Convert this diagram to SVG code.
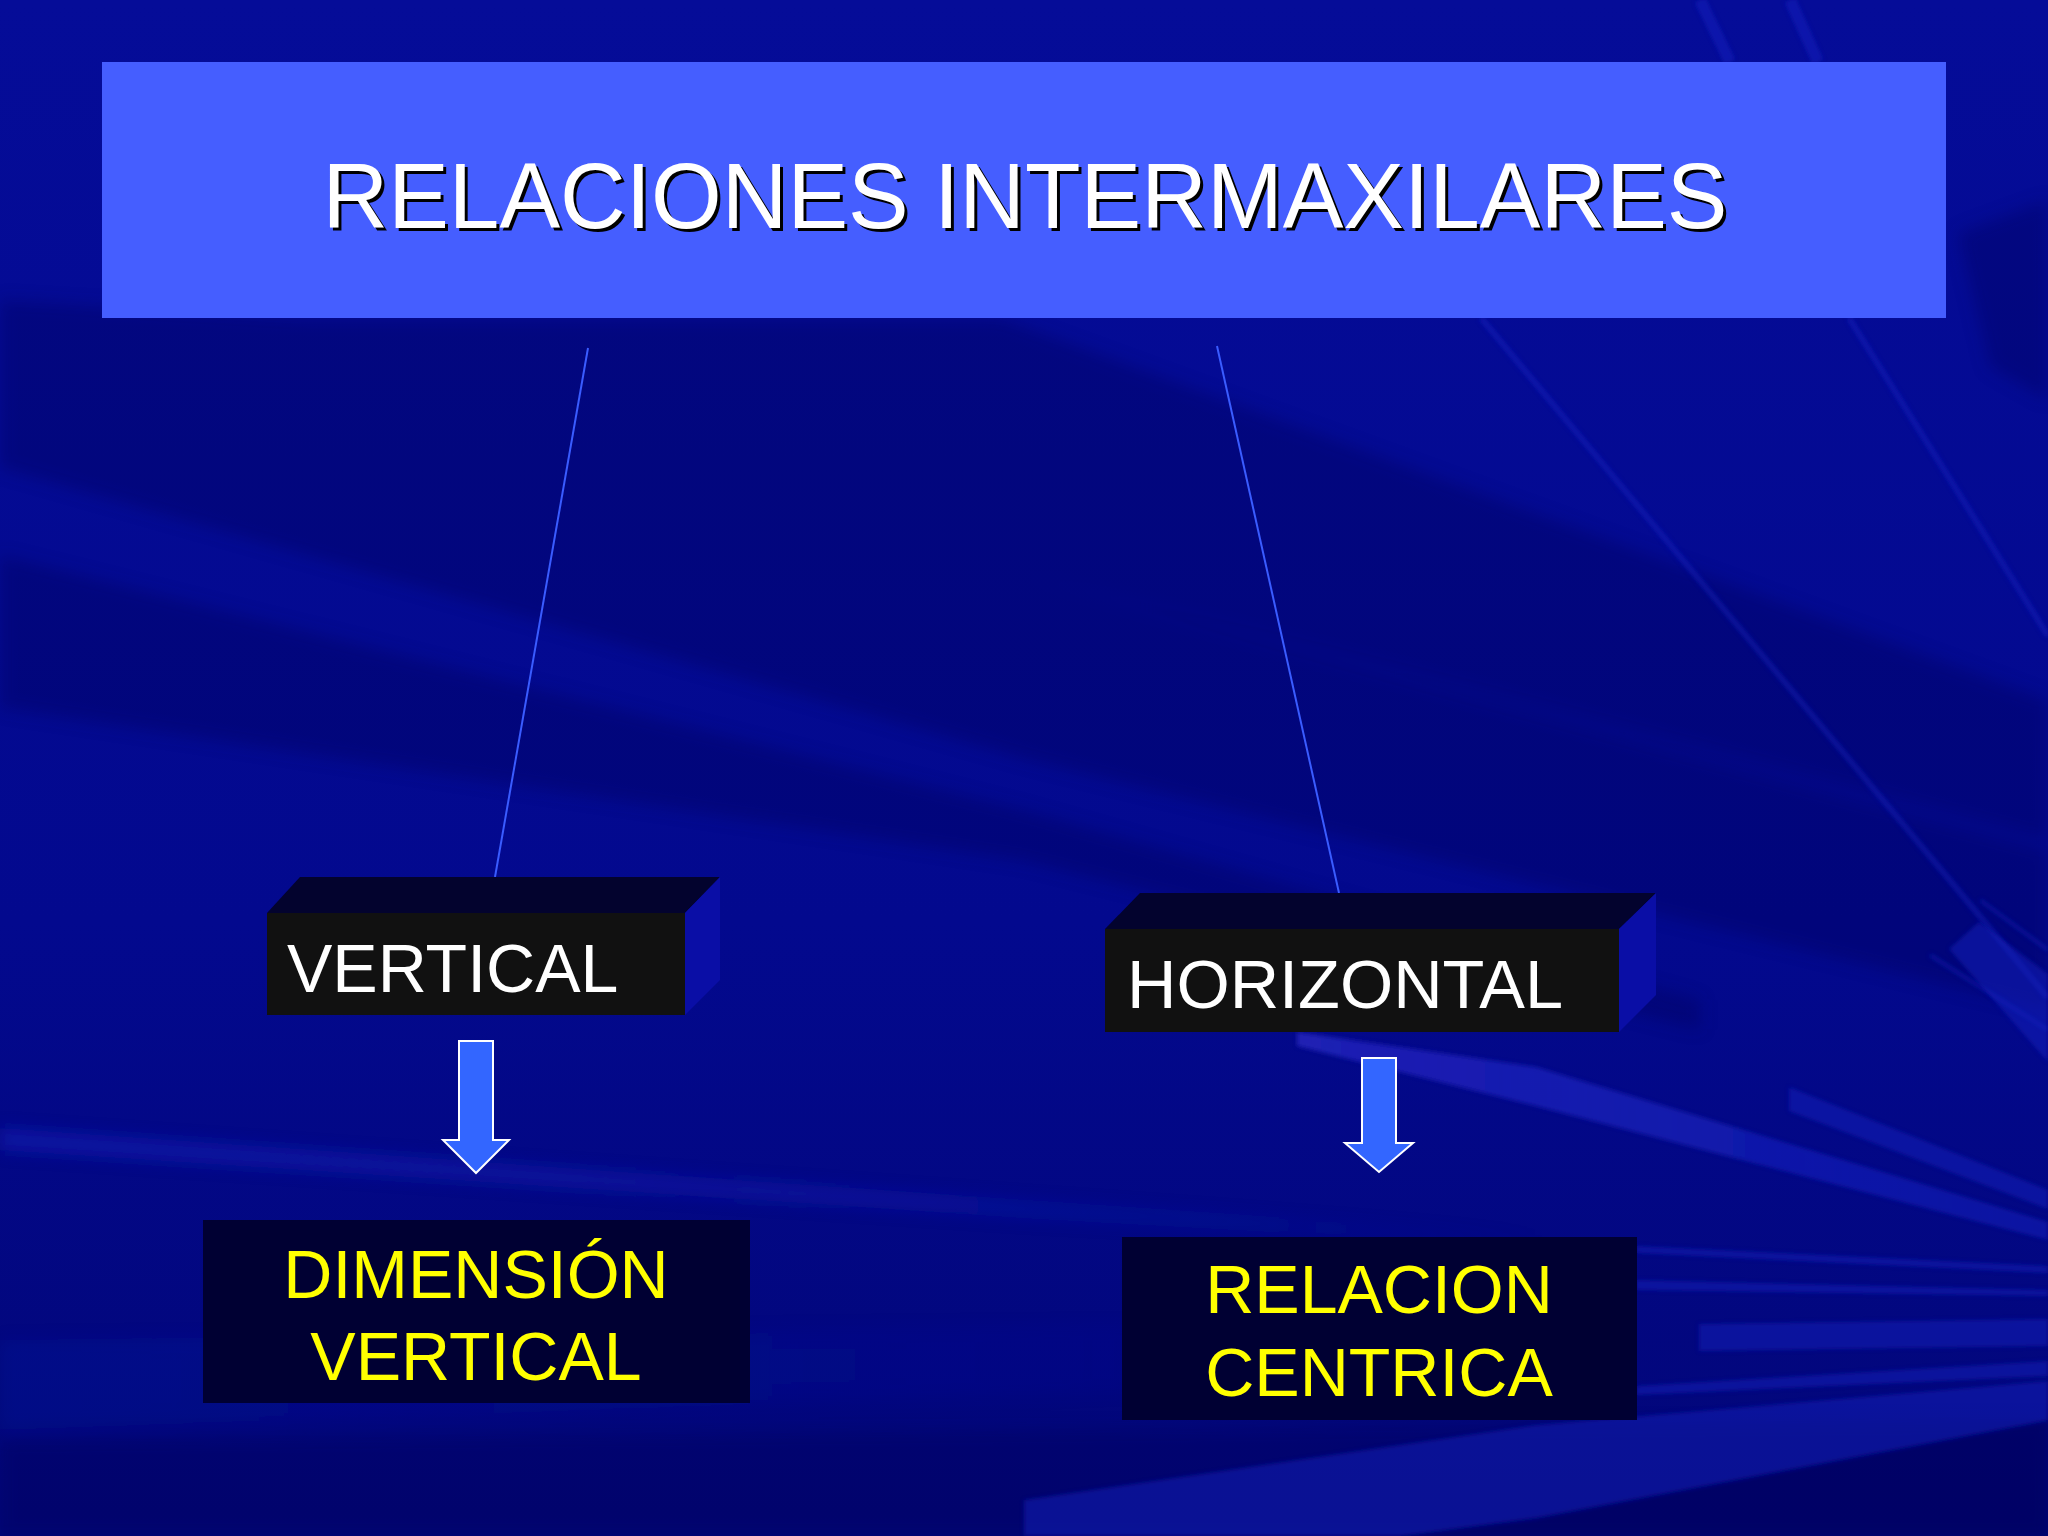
<svg xmlns="http://www.w3.org/2000/svg" width="2048" height="1536" viewBox="0 0 2048 1536">
  <defs>
    <linearGradient id="bg" x1="0" y1="0" x2="0" y2="1">
      <stop offset="0" stop-color="#050c98"/>
      <stop offset="0.6" stop-color="#03098e"/>
      <stop offset="1" stop-color="#020678"/>
    </linearGradient>
    <linearGradient id="fadeR" x1="0" y1="0" x2="1" y2="0">
      <stop offset="0" stop-color="#2222b8" stop-opacity="0.9"/>
      <stop offset="1" stop-color="#1020c0" stop-opacity="0.5"/>
    </linearGradient>
    <linearGradient id="fadeL" x1="0" y1="0" x2="1" y2="0">
      <stop offset="0" stop-color="#1424c4" stop-opacity="0.45"/>
      <stop offset="0.6" stop-color="#1424c4" stop-opacity="0.3"/>
      <stop offset="1" stop-color="#1424c4" stop-opacity="0"/>
    </linearGradient>
    <linearGradient id="fadeB" x1="0" y1="0" x2="1" y2="0">
      <stop offset="0" stop-color="#1424c4" stop-opacity="0.14"/>
      <stop offset="0.7" stop-color="#1424c4" stop-opacity="0.08"/>
      <stop offset="1" stop-color="#1424c4" stop-opacity="0"/>
    </linearGradient>
    <filter id="soft" x="-5%" y="-5%" width="110%" height="110%">
      <feGaussianBlur stdDeviation="8"/>
    </filter>
    <filter id="soft2" x="-5%" y="-5%" width="110%" height="110%">
      <feGaussianBlur stdDeviation="2"/>
    </filter>
    <style>
      .dark { fill: #00005a; opacity: 0.35; }
      .light { fill: #1424c4; opacity: 0.45; }
      .ray { stroke: #1a2ad0; stroke-opacity: 0.35; fill: none; }
      .front { fill: #111111; }
      .topface { fill: #03032e; }
      .sideface { fill: #0a0ea6; }
      .lbl { font-family: "Liberation Sans", Arial, sans-serif; font-size: 68px; fill: #ffffff; }
      .ylw { font-family: "Liberation Sans", Arial, sans-serif; font-size: 68px; fill: #ffff00; text-anchor: middle; }
      .box2 { fill: #000033; }
      .arrow { fill: #3366ff; stroke: #ffffff; stroke-width: 2; stroke-linejoin: miter; }
      .conn { stroke: #3a5cff; stroke-width: 2; fill: none; }
    </style>
  </defs>

  <!-- background -->
  <g id="background">
    <rect x="0" y="0" width="2048" height="1536" fill="url(#bg)"/>
    <g filter="url(#soft)">
      <polygon class="dark" points="300,318 1000,318 2048,700 2048,840 1024,575 0,325 0,300"/>
      <polygon class="dark" points="0,325 1024,575 2048,850 2048,1010 1024,759 0,468"/>
      <polygon class="dark" points="0,555 1024,810 1700,1000 1700,1030 1024,861 0,708"/>
      <polygon class="dark" points="1958,233 2048,200 2048,400 1990,367"/>
      <polygon class="dark" points="0,1440 2048,1420 2048,1536 0,1536"/>
      <polygon fill="url(#fadeL)" points="0,1128 1024,1200 1547,1235 1547,1248 1024,1218 0,1150"/>
      <polygon fill="url(#fadeB)" points="0,1340 1500,1320 1500,1380 0,1430"/>
    </g>
    <!-- upper right rays -->
    <g filter="url(#soft2)">
      <line class="ray" x1="1700" y1="0" x2="1730" y2="62" stroke-width="12"/>
      <line class="ray" x1="1790" y1="0" x2="1818" y2="62" stroke-width="12"/>
      <line class="ray" x1="1481" y1="318" x2="2048" y2="998" stroke-width="6"/>
      <line class="ray" x1="1849" y1="318" x2="2048" y2="636" stroke-width="6"/>
      <line class="ray" x1="1930" y1="955" x2="2048" y2="1030" stroke-width="4"/>
      <line class="ray" x1="1980" y1="900" x2="2048" y2="950" stroke-width="4"/>
    </g>
    <!-- lower right light rays -->
    <g filter="url(#soft2)">
      <polygon fill="url(#fadeR)" points="1297,1032 1536,1067 2048,1222 2048,1240 1536,1106 1297,1046"/>
      <polygon class="light" points="1789,1087 2048,1190 2048,1209 1789,1111"/>
      <polygon class="light" points="1949,949 1979,922 2048,974 2048,1062"/>
      <polygon class="light" points="1636,1246 2048,1266 2048,1273 1636,1253"/>
      <polygon class="light" points="1636,1280 2048,1290 2048,1296 1636,1290"/>
      <polygon class="light" points="1699,1324 2048,1319 2048,1346 1699,1351"/>
      <polygon class="light" points="1636,1386 2048,1361 2048,1376 1636,1395"/>
      <polygon class="light" points="1024,1500 1536,1425 2048,1381 2048,1420 1536,1518 1400,1536 1024,1536"/>
      <polygon class="dark" points="1400,1536 1536,1518 2048,1420 2048,1536"/>
    </g>
  </g>

  <!-- title -->
  <g id="title">
    <rect x="102" y="62" width="1844" height="256" fill="#455eff"/>
    <text x="1028" y="231" text-anchor="middle" font-family="Liberation Sans, Arial, sans-serif" font-size="92" fill="#000000" textLength="1405" lengthAdjust="spacingAndGlyphs">RELACIONES INTERMAXILARES</text>
    <text x="1025" y="228" text-anchor="middle" font-family="Liberation Sans, Arial, sans-serif" font-size="92" fill="#ffffff" textLength="1405" lengthAdjust="spacingAndGlyphs">RELACIONES INTERMAXILARES</text>
  </g>

  <!-- connectors -->
  <g id="connectors">
    <line class="conn" x1="588" y1="348" x2="495" y2="877"/>
    <line class="conn" x1="1217" y1="346" x2="1339" y2="893"/>
    <polygon id="arrow-vertical" class="arrow" points="459,1041 493,1041 493,1140 509,1140 476,1173 443,1140 459,1140"/>
    <polygon id="arrow-horizontal" class="arrow" points="1362,1058 1396,1058 1396,1143 1413,1143 1379,1172 1345,1143 1362,1143"/>
  </g>

  <!-- VERTICAL box -->
  <g id="node-vertical">
    <polygon class="topface" points="267,913 300,877 720,877 685,913"/>
    <polygon class="sideface" points="685,913 720,877 720,980 685,1015"/>
    <rect class="front" x="267" y="913" width="418" height="102"/>
    <text class="lbl" x="287" y="992">VERTICAL</text>
  </g>

  <!-- HORIZONTAL box -->
  <g id="node-horizontal">
    <polygon class="topface" points="1105,929 1140,893 1656,893 1619,929"/>
    <polygon class="sideface" points="1619,929 1656,893 1656,995 1619,1032"/>
    <rect class="front" x="1105" y="929" width="514" height="103"/>
    <text class="lbl" x="1127" y="1008" textLength="436" lengthAdjust="spacingAndGlyphs">HORIZONTAL</text>
  </g>

  <!-- DIMENSION VERTICAL -->
  <g id="node-dimension-vertical">
    <rect class="box2" x="203" y="1220" width="547" height="183"/>
    <text class="ylw" x="476" y="1298">DIMENSIÓN</text>
    <text class="ylw" x="476" y="1380">VERTICAL</text>
  </g>

  <!-- RELACION CENTRICA -->
  <g id="node-relacion-centrica">
    <rect class="box2" x="1122" y="1237" width="515" height="183"/>
    <text class="ylw" x="1379" y="1313">RELACION</text>
    <text class="ylw" x="1379" y="1396">CENTRICA</text>
  </g>
</svg>
